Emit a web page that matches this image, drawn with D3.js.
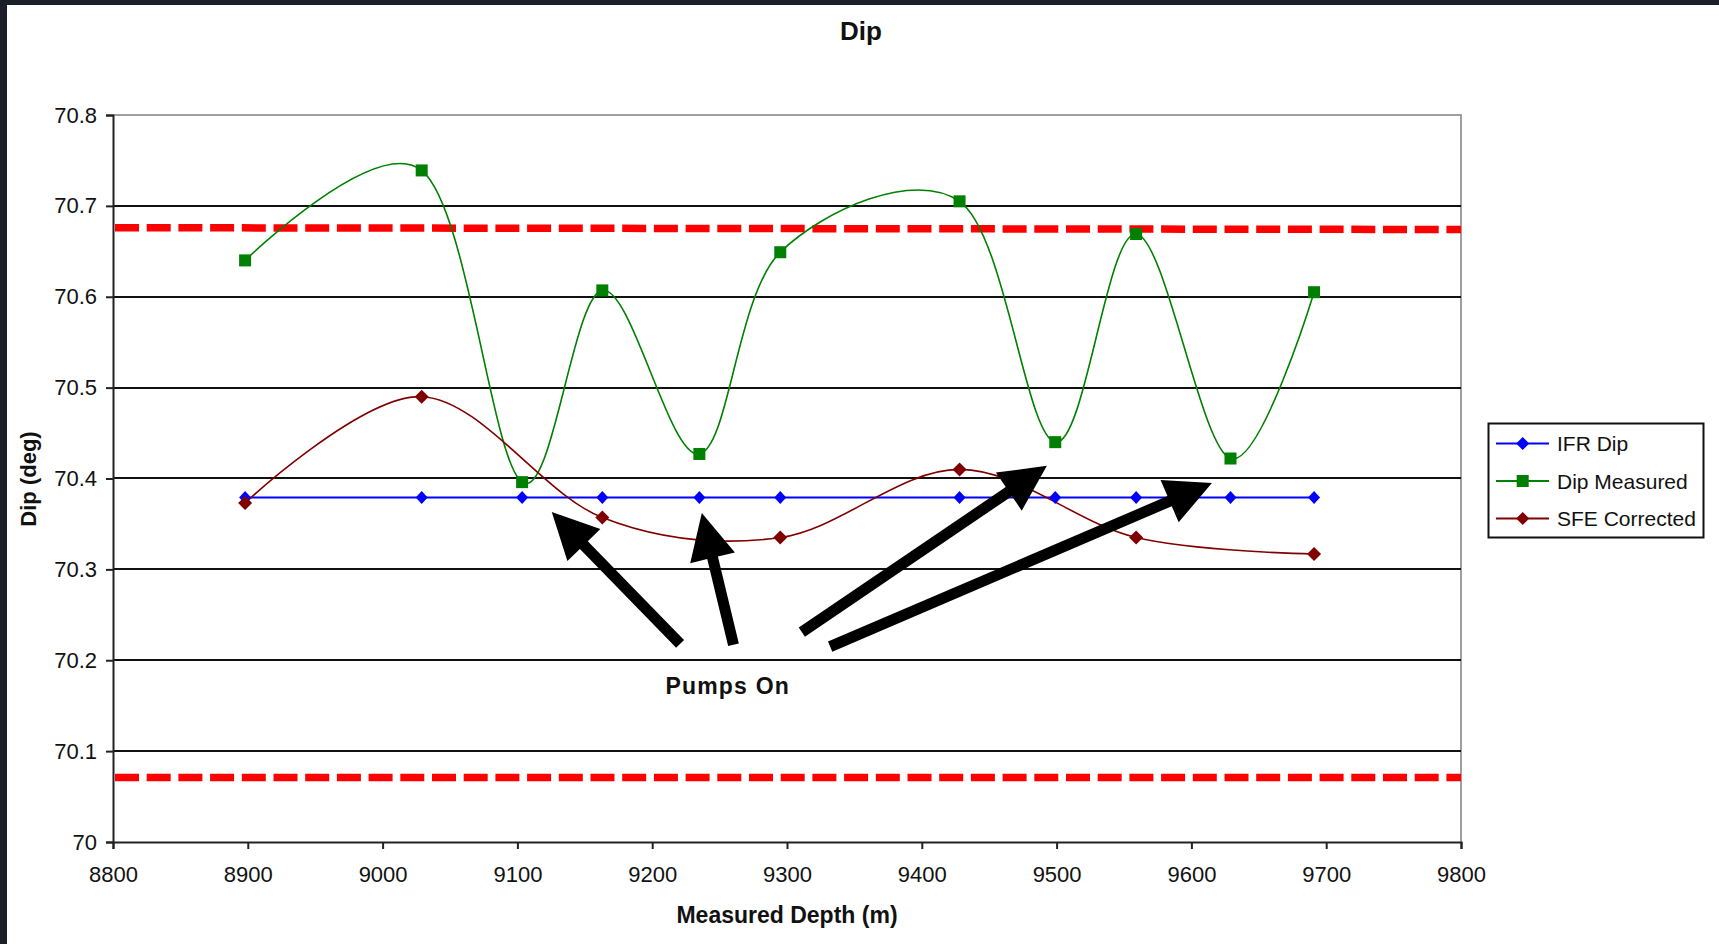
<!DOCTYPE html>
<html>
<head>
<meta charset="utf-8">
<script src="https://cdn.jsdelivr.net/npm/d3@7"></script>
<style>
  html, body { margin: 0; padding: 0; background: #fff; }
  svg { display: block; font-family: "Liberation Sans", Arial, sans-serif; }
</style>
</head>
<body>
<svg id="chart" width="1719" height="944"></svg>
<script>
// Survey depths (m) shared by the IFR and measured dip series
const depths = [8898, 9029, 9103.5, 9163, 9235, 9295, 9428, 9499, 9559, 9629, 9691];
const ifrDip = [70.379, 70.379, 70.379, 70.379, 70.379, 70.379, 70.379, 70.379, 70.379, 70.379, 70.379];
const dipMeasured = [70.640, 70.739, 70.396, 70.607, 70.427, 70.649, 70.705, 70.440, 70.669, 70.422, 70.605];

// SFE-corrected dip is only available at a subset of stations
const sfeDepths = [8898, 9029, 9163, 9295, 9428, 9559, 9691];
const sfeCorrected = [70.373, 70.490, 70.357, 70.335, 70.410, 70.335, 70.317];

// Tolerance band (deg), given at the start and end of the depth range
const upperLimit = [70.676, 70.674];
const lowerLimit = [70.071, 70.071];

// Axis ticks
const xTicks = [8800, 8900, 9000, 9100, 9200, 9300, 9400, 9500, 9600, 9700, 9800];
const yTicks = [70, 70.1, 70.2, 70.3, 70.4, 70.5, 70.6, 70.7, 70.8];
const yTickLabels = ["70", "70.1", "70.2", "70.3", "70.4", "70.5", "70.6", "70.7", "70.8"];

// "Pumps On" arrows: [tailDepth, tailDip, tipDepth, tipDip]
const pumpArrows = [
  [9220.7, 70.218, 9125.5, 70.363],
  [9260.3, 70.217, 9236.8, 70.362],
  [9311.0, 70.231, 9492.8, 70.414],
  [9332.0, 70.215, 9615.2, 70.395]
];
const pumpLabel = { depth: 9256, dip: 70.163, text: "Pumps On" };

const svg = d3.select("#chart");
const W = 1719, H = 944;
const plot = { left: 113, right: 1461, top: 115, bottom: 842 };

// frame edges of the window
svg.append("rect").attr("x", 0).attr("y", 0).attr("width", W).attr("height", H).attr("fill", "#fff");
svg.append("rect").attr("x", 0).attr("y", 0).attr("width", 7).attr("height", H).attr("fill", "#1b1f27");
svg.append("rect").attr("x", 0).attr("y", 0).attr("width", W).attr("height", 5).attr("fill", "#1b1f27");

const x = d3.scaleLinear().domain([8800, 9800]).range([plot.left, plot.right]);
const y = d3.scaleLinear().domain([70, 70.8]).range([plot.bottom, plot.top]);

// plot-area border (grey) on top and right
svg.append("path")
  .attr("d", `M${plot.left},${plot.top}H${plot.right}V${plot.bottom}`)
  .attr("fill", "none").attr("stroke", "#a0a0a0").attr("stroke-width", 2);

// horizontal gridlines
svg.append("g").selectAll("line")
  .data(yTicks.filter(v => v > 70 && v < 70.8))
  .join("line")
  .attr("x1", plot.left).attr("x2", plot.right)
  .attr("y1", d => Math.round(y(d))).attr("y2", d => Math.round(y(d)))
  .attr("stroke", "#111").attr("stroke-width", 2);

// axes
const yAxis = svg.append("g")
  .attr("transform", `translate(${plot.left},0)`)
  .call(d3.axisLeft(y).tickValues(yTicks).tickSize(7).tickPadding(9)
    .tickFormat((d, i) => yTickLabels[i]));
const xAxis = svg.append("g")
  .attr("transform", `translate(0,${plot.bottom})`)
  .call(d3.axisBottom(x).tickValues(xTicks).tickSize(7).tickFormat(d3.format("d")));

[yAxis, xAxis].forEach(g => {
  g.select(".domain").attr("stroke", "#222").attr("stroke-width", 2);
  g.selectAll(".tick line").attr("stroke", "#222").attr("stroke-width", 2);
  g.selectAll(".tick text").attr("fill", "#111")
    .style("font-size", "22px").style("font-family", "'Liberation Sans', Arial, sans-serif");
});
xAxis.selectAll(".tick text").attr("y", 40).attr("dy", 0);

// tolerance band lines
const limitLine = d3.line().x(d => x(d[0])).y(d => y(d[1]));
[upperLimit, lowerLimit].forEach(lim => {
  svg.append("path")
    .attr("d", limitLine([[8800, lim[0]], [9800, lim[1]]]))
    .attr("fill", "none").attr("stroke", "#ff0000").attr("stroke-width", 7.5)
    .attr("stroke-dasharray", "24,7.7").attr("stroke-dashoffset", -2);
});

// series
const smooth = d3.line().curve(d3.curveCardinal.tension(0)).x(d => x(d[0])).y(d => y(d[1]));
const straight = d3.line().x(d => x(d[0])).y(d => y(d[1]));

const ifrPts = depths.map((d, i) => [d, ifrDip[i]]);
const measPts = depths.map((d, i) => [d, dipMeasured[i]]);
const sfePts = sfeDepths.map((d, i) => [d, sfeCorrected[i]]);

const colors = { ifr: "#0000ff", meas: "#008000", sfe: "#800000" };

svg.append("path").attr("d", straight(ifrPts)).attr("fill", "none")
  .attr("stroke", colors.ifr).attr("stroke-width", 2);
svg.append("path").attr("d", smooth(measPts)).attr("fill", "none")
  .attr("stroke", colors.meas).attr("stroke-width", 1.6);
svg.append("path").attr("d", smooth(sfePts)).attr("fill", "none")
  .attr("stroke", colors.sfe).attr("stroke-width", 1.6);

function diamond(cx, cy, hw, hh) {
  return `M${cx},${cy - hh}L${cx + hw},${cy}L${cx},${cy + hh}L${cx - hw},${cy}Z`;
}

svg.append("g").selectAll("path").data(ifrPts).join("path")
  .attr("d", d => diamond(x(d[0]), y(d[1]), 6, 6.5)).attr("fill", colors.ifr);
svg.append("g").selectAll("rect").data(measPts).join("rect")
  .attr("x", d => x(d[0]) - 6).attr("y", d => y(d[1]) - 6)
  .attr("width", 12).attr("height", 12).attr("fill", colors.meas);
svg.append("g").selectAll("path").data(sfePts).join("path")
  .attr("d", d => diamond(x(d[0]), y(d[1]), 7, 7)).attr("fill", colors.sfe);

// arrows
function arrowPath(x0, y0, x1, y1) {
  const dx = x1 - x0, dy = y1 - y0, len = Math.hypot(dx, dy);
  const ux = dx / len, uy = dy / len, nx = -uy, ny = ux;
  const shaft = 5.5, head = 23, headLen = 46;
  const bx = x1 - ux * headLen, by = y1 - uy * headLen;
  const p = [
    [x0 + nx * shaft, y0 + ny * shaft],
    [bx + nx * shaft, by + ny * shaft],
    [bx + nx * head, by + ny * head],
    [x1, y1],
    [bx - nx * head, by - ny * head],
    [bx - nx * shaft, by - ny * shaft],
    [x0 - nx * shaft, y0 - ny * shaft]
  ];
  return "M" + p.map(q => q.join(",")).join("L") + "Z";
}
svg.append("g").selectAll("path").data(pumpArrows).join("path")
  .attr("d", a => arrowPath(x(a[0]), y(a[1]), x(a[2]), y(a[3])))
  .attr("fill", "#000");

svg.append("text")
  .attr("x", x(pumpLabel.depth)).attr("y", y(pumpLabel.dip))
  .attr("text-anchor", "middle").attr("font-weight", "bold")
  .attr("font-size", 23).attr("letter-spacing", 1.2).attr("fill", "#111")
  .text(pumpLabel.text);

// titles
svg.append("text").attr("x", 861).attr("y", 40).attr("text-anchor", "middle")
  .attr("font-weight", "bold").attr("font-size", 26).attr("fill", "#111").text("Dip");
svg.append("text").attr("x", 787).attr("y", 923).attr("text-anchor", "middle")
  .attr("font-weight", "bold").attr("font-size", 23).attr("fill", "#111").text("Measured Depth (m)");
svg.append("text").attr("transform", "translate(36,479) rotate(-90)").attr("text-anchor", "middle")
  .attr("font-weight", "bold").attr("font-size", 22).attr("fill", "#111").text("Dip (deg)");

// legend
const legendItems = [
  { name: "IFR Dip", color: colors.ifr, shape: "diamond" },
  { name: "Dip Measured", color: colors.meas, shape: "square" },
  { name: "SFE Corrected", color: colors.sfe, shape: "diamond" }
];
const lg = svg.append("g");
lg.append("rect").attr("x", 1488.5).attr("y", 423.5).attr("width", 215).attr("height", 114)
  .attr("fill", "#fff").attr("stroke", "#111").attr("stroke-width", 2);
const rows = lg.selectAll("g.row").data(legendItems).join("g")
  .attr("class", "row").attr("transform", (d, i) => `translate(0,${443.5 + i * 37.5})`);
rows.append("line").attr("x1", 1496).attr("x2", 1549).attr("y1", 0).attr("y2", 0)
  .attr("stroke", d => d.color).attr("stroke-width", 2);
rows.append("path")
  .attr("d", d => d.shape === "square" ? "M1516.7,-6h12v12h-12Z" : diamond(1522.7, 0, 6.5, 6.5))
  .attr("fill", d => d.color);
rows.append("text").attr("x", 1557).attr("y", 7.5).attr("font-size", 21).attr("fill", "#111")
  .text(d => d.name);
</script>
</body>
</html>
